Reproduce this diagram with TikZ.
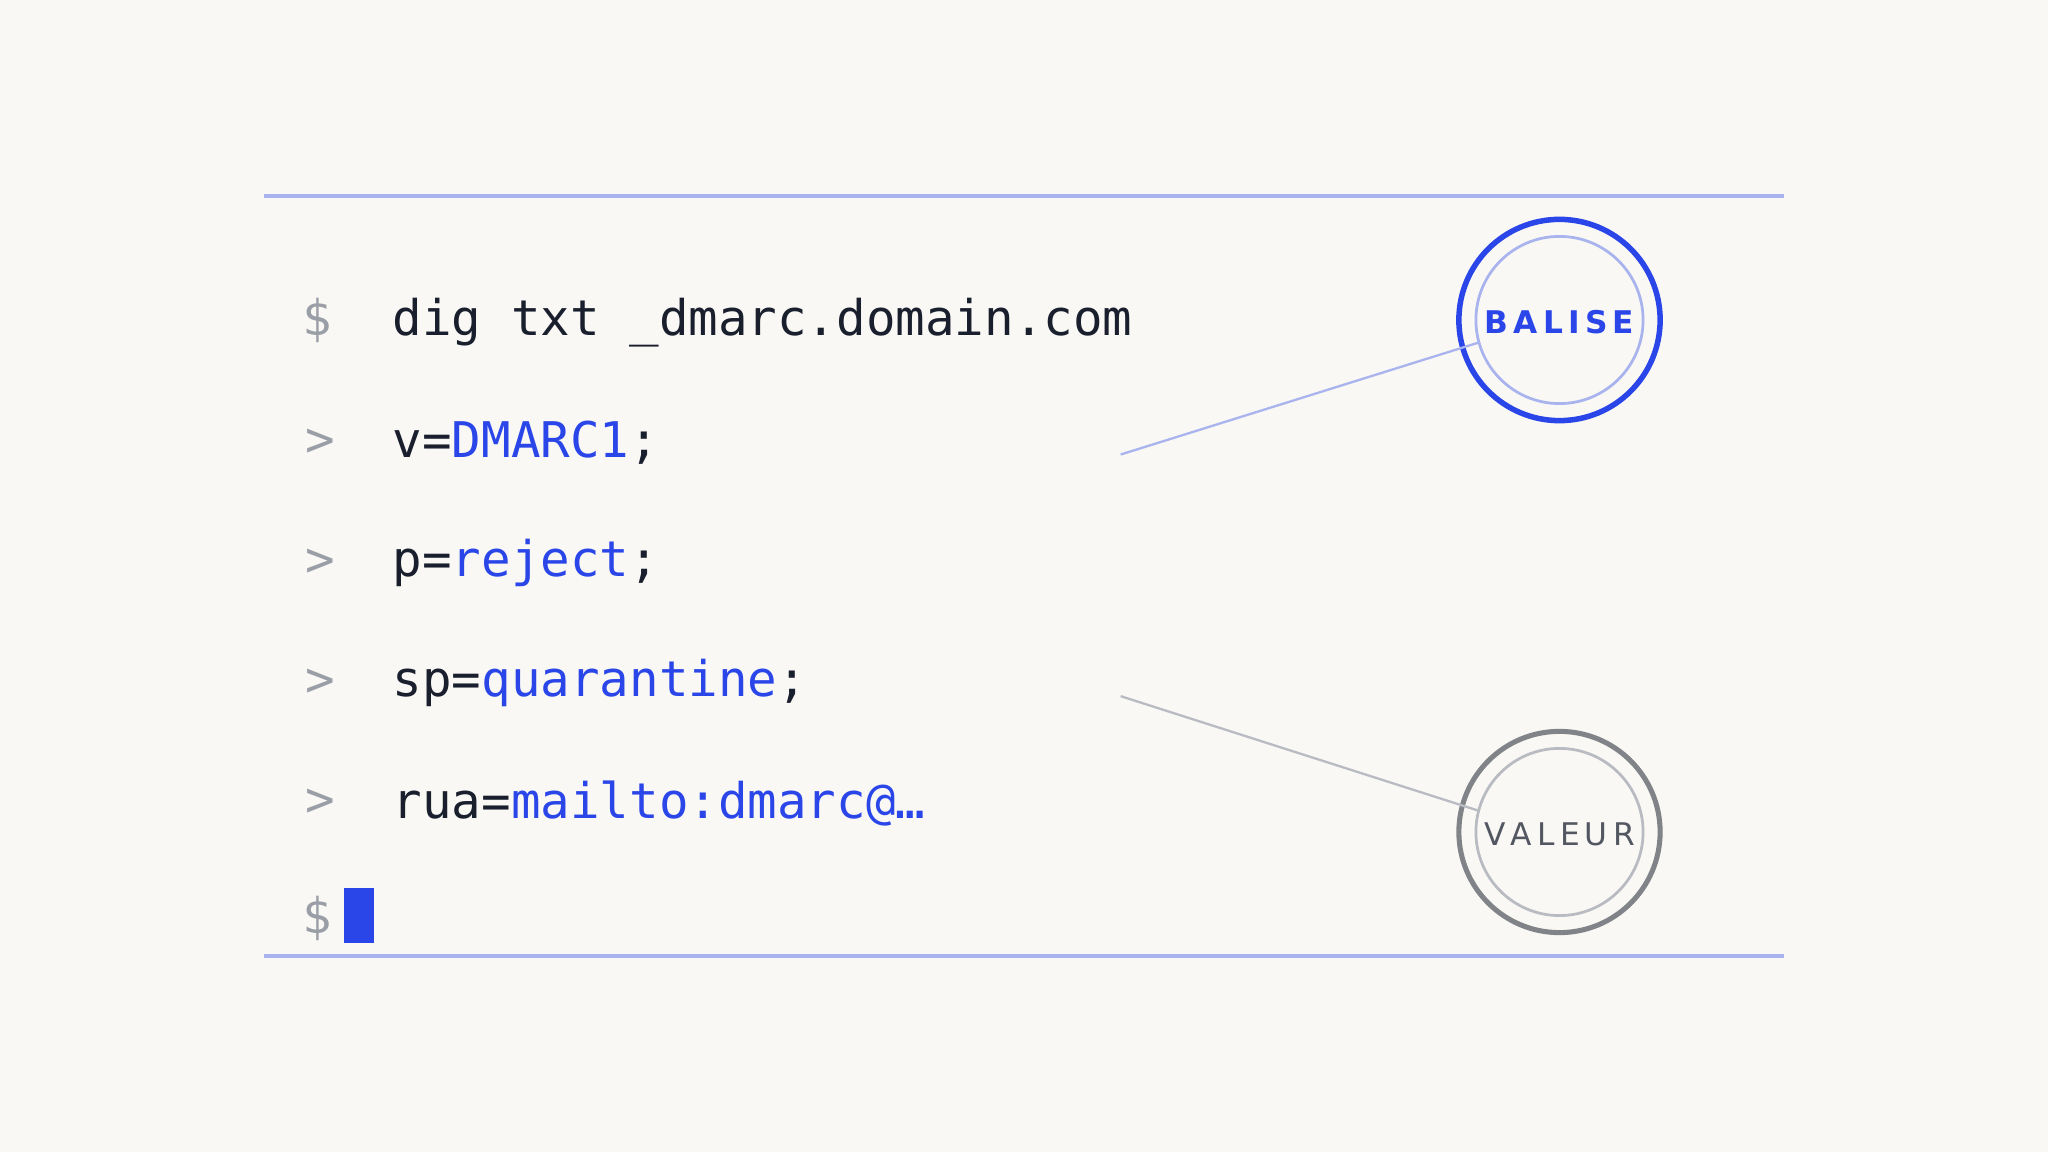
\documentclass[tikz,border=0pt]{standalone}
\usepackage{fontspec}
\setmainfont{DejaVu Sans}
\newfontfamily\codefont{DejaVu Sans Mono}
\newfontfamily\labfont{DejaVu Sans}
\definecolor{bg}{HTML}{F9F8F4}
\definecolor{blu}{HTML}{2A45E8}
\definecolor{lblu}{HTML}{A9B4EE}
\definecolor{ink}{HTML}{1A1F2E}
\definecolor{gry}{HTML}{9A9EA6}
\definecolor{dgry}{HTML}{808388}
\begin{document}
\begin{tikzpicture}[x=0.01cm,y=-0.01cm,
  code/.style={anchor=west,inner sep=0,font=\codefont\fontsize{10.7pt}{12pt}\selectfont,text=ink},
  prompt/.style={anchor=center,inner sep=0,font=\codefont\fontsize{10.7pt}{12pt}\selectfont,text=gry}]
\fill[bg] (0,0) rectangle (1568,882);
\useasboundingbox (0,0) rectangle (1568,882);
\draw[lblu,line width=0.8pt] (202,150) -- (1366,150);
\draw[lblu,line width=0.8pt] (202,732) -- (1366,732);
\node[prompt] (p0) at (243,245) {\$};
\node[prompt] (p1) at (245,339) {>};
\node[prompt] (p2) at (245,431) {>};
\node[prompt] (p3) at (245,523) {>};
\node[prompt] (p4) at (245,615) {>};
\node[prompt] (p5) at (243,703) {\$};
\node[code] (c0) at (300,247) {dig txt \_dmarc.domain.com};
\node[code] (c1) at (300,339) {v=\textcolor{blu}{DMARC1};};
\node[code] (c2) at (300,431) {p=\textcolor{blu}{reject};};
\node[code] (c3) at (300,523) {sp=\textcolor{blu}{quarantine};};
\node[code] (c4) at (300,615) {rua=\textcolor{blu}{mailto:dmarc@…}};
\fill[blu] (263,680) rectangle (286,722);
% circles
\node[circle,draw=blu,line width=1.2pt,minimum size=1.54cm,inner sep=0] (b) at (1194,245) {};
\draw[lblu,line width=0.6pt] (b.center) circle (64);
\node[text=blu,font=\labfont\bfseries\fontsize{6.8pt}{8pt}\selectfont] at (1194,247) {B\,A\,L\,I\,S\,E};
\node[circle,draw=dgry,line width=1.1pt,minimum size=1.54cm,inner sep=0] (v) at (1194,637) {};
\draw[gry!70,line width=0.6pt] (v.center) circle (64);
\node[text=ink!75,font=\labfont\fontsize{6.8pt}{8pt}\selectfont] at (1194,639) {V\,A\,L\,E\,U\,R};
\coordinate (a1) at (858,348);
\coordinate (a2) at (858,533);
\draw[lblu,line width=0.5pt] (a1) -- (1133,262);
\draw[gry!70,line width=0.5pt] (a2) -- (1133,621);
\end{tikzpicture}
\end{document}
